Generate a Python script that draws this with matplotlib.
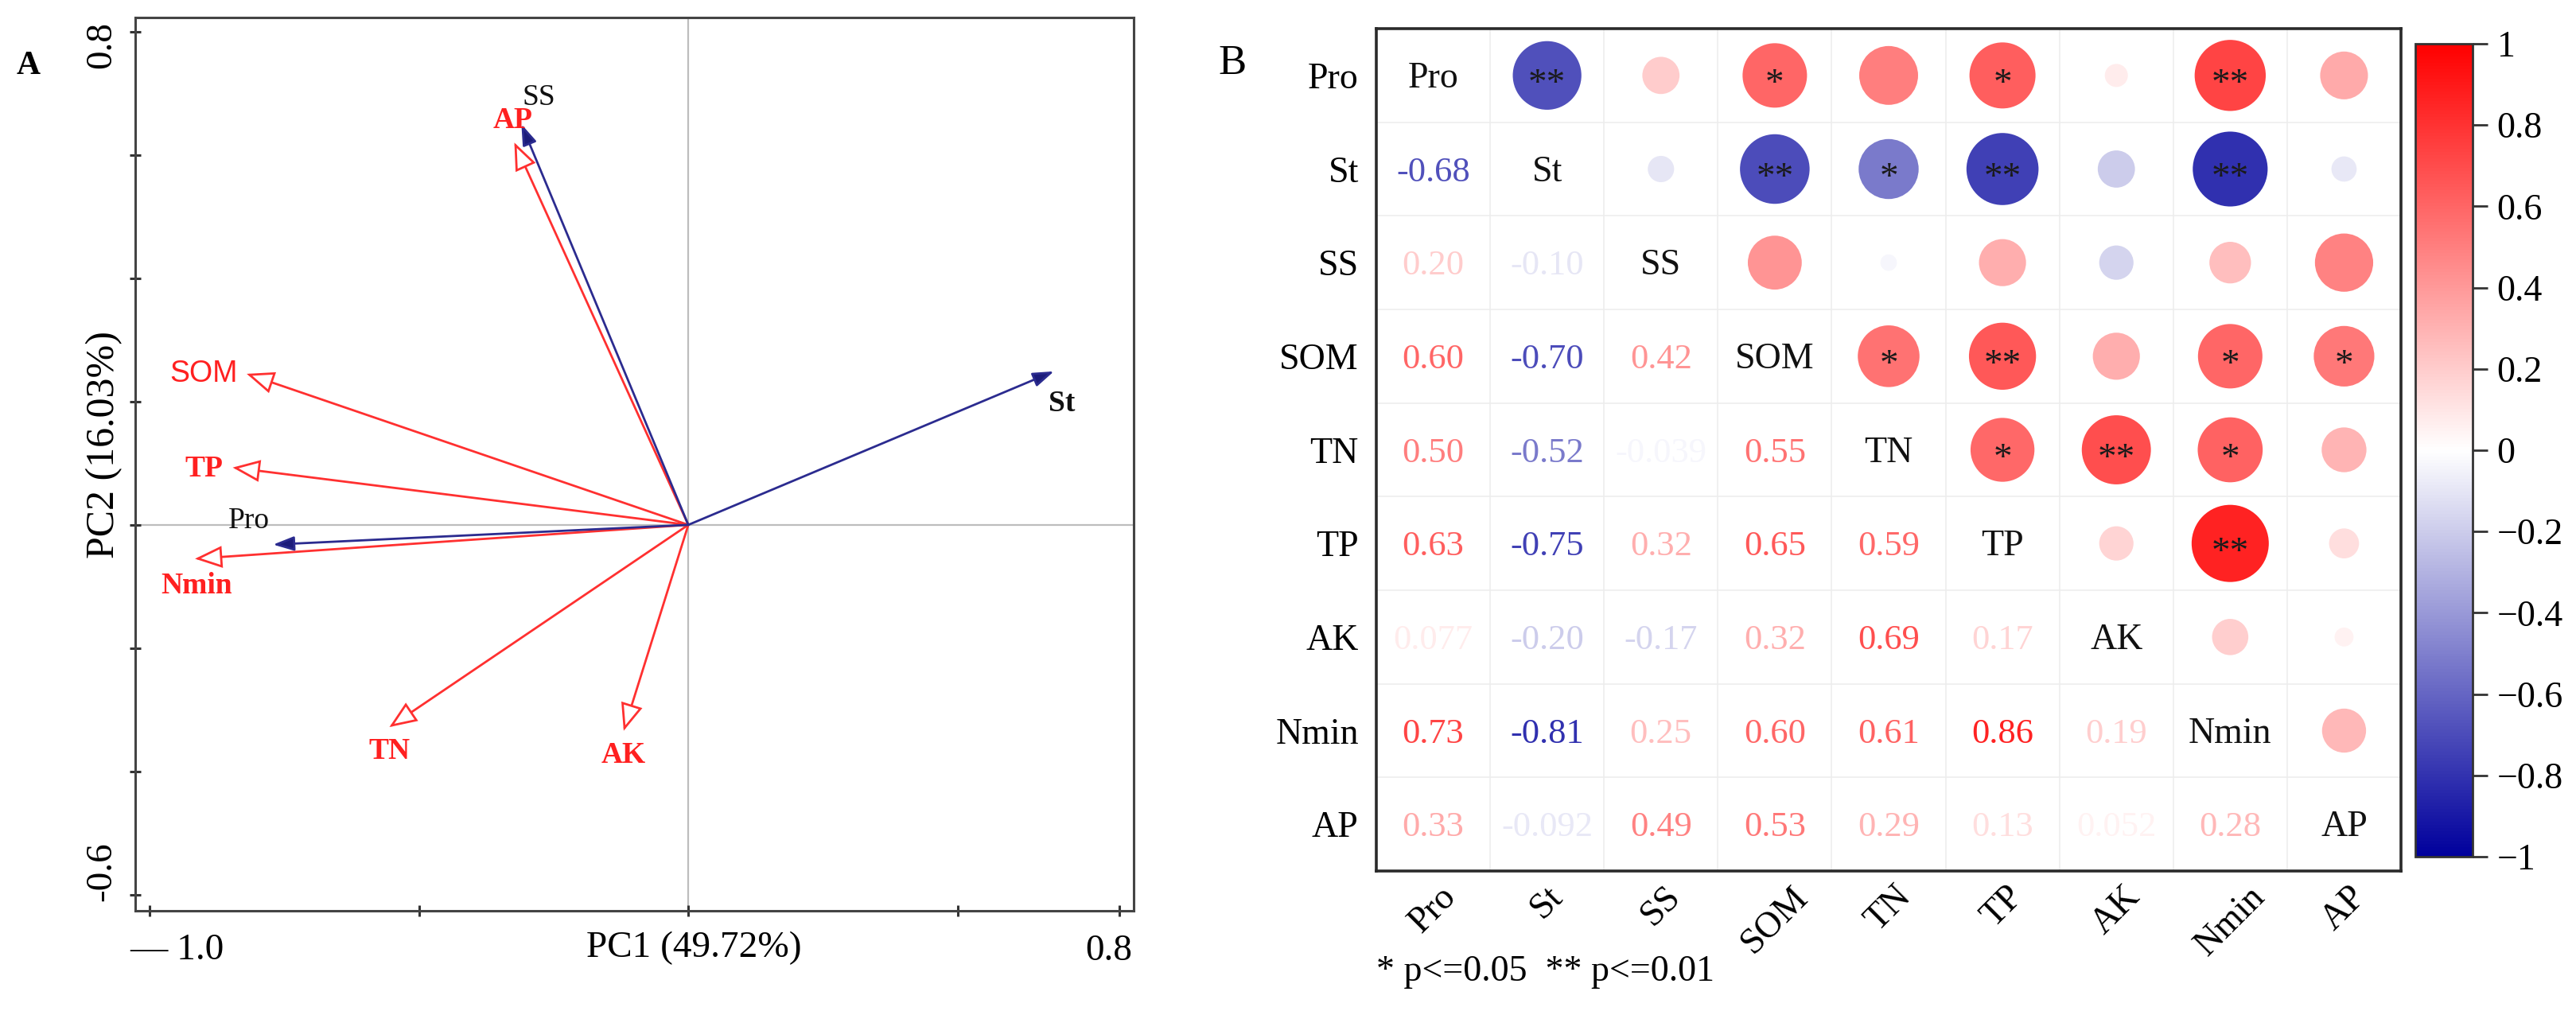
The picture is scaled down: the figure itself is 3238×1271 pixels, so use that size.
import numpy as np
import matplotlib
matplotlib.use('Agg')
import matplotlib.pyplot as plt
from matplotlib.colors import LinearSegmentedColormap, Normalize
from matplotlib.cm import ScalarMappable
from matplotlib.patches import FancyArrowPatch

# ---------------- data ----------------
# Panel A: PCA loadings
pca_vars = ['SS', 'AP', 'SOM', 'TP', 'Pro', 'Nmin', 'TN', 'AK', 'St']
pc1 = [-0.31, -0.323, -0.82, -0.846, -0.771, -0.916, -0.555, -0.12, 0.679]
pc2 = [0.65, 0.62, 0.245, 0.093, -0.032, -0.055, -0.328, -0.334, 0.249]
pca_group = ['resp', 'env', 'env', 'env', 'resp', 'env', 'env', 'env', 'resp']
pc1_label = 'PC1 (49.72%)'
pc2_label = 'PC2 (16.03%)'
xtick_vals = [-1.0, -0.5, 0.0, 0.5, 0.8]
ytick_vals = [-0.6, -0.4, -0.2, 0.0, 0.2, 0.4, 0.6, 0.8]

# Panel B: correlation matrix (lower triangle) and significance
corr_vars = ['Pro', 'St', 'SS', 'SOM', 'TN', 'TP', 'AK', 'Nmin', 'AP']
corr_lower = [
    [],
    [-0.68],
    [0.20, -0.10],
    [0.60, -0.70, 0.42],
    [0.50, -0.52, -0.039, 0.55],
    [0.63, -0.75, 0.32, 0.65, 0.59],
    [0.077, -0.20, -0.17, 0.32, 0.69, 0.17],
    [0.73, -0.81, 0.25, 0.60, 0.61, 0.86, 0.19],
    [0.33, -0.092, 0.49, 0.53, 0.29, 0.13, 0.052, 0.28],
]
sig_lower = [
    [],
    ['**'],
    ['', ''],
    ['*', '**', ''],
    ['', '*', '', '*'],
    ['*', '**', '', '**', '*'],
    ['', '', '', '', '**', ''],
    ['**', '**', '', '*', '*', '**', ''],
    ['', '', '', '*', '', '', '', ''],
]
cbar_ticks = [-1, -0.8, -0.6, -0.4, -0.2, 0, 0.2, 0.4, 0.6, 0.8, 1]
cbar_ticklabels = ['\u22121', '\u22120.8', '\u22120.6', '\u22120.4', '\u22120.2', '0',
                   '0.2', '0.4', '0.6', '0.8', '1']

# ---------------- layout / style ----------------
W, H = 3238, 1271
DPI = 100
SERIF = ['Liberation Serif', 'DejaVu Serif']
SANS = ['Liberation Sans', 'DejaVu Sans']
RED_LINE = '#FF3030'
RED_TXT = '#FF2020'
BLUE_LINE = '#2B2B8F'
BLUE_HEAD = '#1C1C7A'

plt.rcParams['font.family'] = SERIF
plt.rcParams['mathtext.fontset'] = 'stix'


def fpx(x, y):
    return x / W, 1 - y / H


fig = plt.figure(figsize=(W / DPI, H / DPI), dpi=DPI)
fig.patch.set_facecolor('white')

# ================= Panel A =================
axL, axR, axT, axB = 170, 1425, 22, 1145
ax1 = fig.add_axes([axL / W, 1 - axB / H, (axR - axL) / W, (axB - axT) / H])
ax1.set_xlim(-1.027, 0.827)
ax1.set_ylim(-0.626, 0.823)
for s in ax1.spines.values():
    s.set_color('#444444')
    s.set_linewidth(2.2)
ax1.set_xticks(xtick_vals)
ax1.set_yticks(ytick_vals)
ax1.set_xticklabels([])
ax1.set_yticklabels([])
ax1.tick_params(direction='inout', length=10, width=2.2, color='#333333',
                top=False, right=False)
ax1.axhline(0, color='#BDBDBD', lw=1.6, zorder=1)
ax1.axvline(0, color='#BDBDBD', lw=1.6, zorder=1)

label_offsets_px = {
    'SS': (22, -33), 'AP': (-2, -28), 'SOM': (-54, 0), 'TP': (-36, 2),
    'Pro': (-30, -30), 'Nmin': (2, 34), 'TN': (0, 30), 'AK': (0, 31),
    'St': (10, 41),
}
label_style = {
    'SS': dict(color='#111111', family=SERIF, weight='normal'),
    'Pro': dict(color='#111111', family=SERIF, weight='normal'),
    'St': dict(color='#111111', family=SERIF, weight='bold'),
    'SOM': dict(color=RED_TXT, family=SANS, weight='normal'),
}

for name, x, y, g in zip(pca_vars, pc1, pc2, pca_group):
    if g == 'env':
        arr = FancyArrowPatch((0, 0), (x, y),
                              arrowstyle='-|>,head_length=21,head_width=8.5',
                              mutation_scale=1, fc='white', ec=RED_LINE,
                              lw=2.0, shrinkA=0, shrinkB=0, zorder=3,
                              joinstyle='miter')
    else:
        arr = FancyArrowPatch((0, 0), (x, y),
                              arrowstyle='-|>,head_length=16,head_width=5.5',
                              mutation_scale=1, fc=BLUE_HEAD, ec=BLUE_LINE,
                              lw=2.0, shrinkA=0, shrinkB=0, zorder=4)
    ax1.add_patch(arr)
    st = label_style.get(name, dict(color=RED_TXT, family=SERIF, weight='bold'))
    ox, oy = label_offsets_px[name]
    ax1.annotate(name, xy=(x, y), xytext=(ox * 0.72, -oy * 0.72),
                 textcoords='offset points', ha='center', va='center',
                 fontsize=27, zorder=5, **st)

# axis texts for panel A
fig.text(*fpx(36, 83), 'A', fontsize=30, weight='bold', ha='center', va='center',
         family=SERIF)
fig.text(*fpx(131, 559), pc2_label, fontsize=36, rotation=90, ha='center',
         va='center', family=SERIF)
fig.text(*fpx(872, 1192), pc1_label, fontsize=34, ha='center', va='center',
         family=SERIF)
fig.text(*fpx(222, 1195), '\u2014 1.0', fontsize=34, ha='center', va='center',
         family=SERIF)
fig.text(*fpx(1394, 1196), '0.8', fontsize=34, ha='center', va='center',
         family=SERIF)
fig.text(*fpx(128, 57), '0.8', fontsize=34, rotation=90, ha='center',
         va='center', family=SERIF)
fig.text(*fpx(128, 1096), '-0.6', fontsize=34, rotation=90, ha='center',
         va='center', family=SERIF)

# ================= Panel B =================
n = len(corr_vars)
R = np.eye(n)
S = [['' for _ in range(n)] for _ in range(n)]
for i in range(n):
    for j, v in enumerate(corr_lower[i]):
        R[i, j] = v
        R[j, i] = v
        S[i][j] = sig_lower[i][j]
        S[j][i] = sig_lower[i][j]

cmap = LinearSegmentedColormap.from_list('bwr_corr', ['#00009C', '#FFFFFF', '#FF0000'])
norm = Normalize(-1, 1)

mL, mR, mT, mB = 1730, 3018, 36, 1095
ax2 = fig.add_axes([mL / W, 1 - mB / H, (mR - mL) / W, (mB - mT) / H])
ax2.set_xlim(-0.5, n - 0.5)
ax2.set_ylim(n - 0.5, -0.5)
for k in range(1, n):
    ax2.axhline(k - 0.5, color='#EDEDED', lw=1.2, zorder=0)
    ax2.axvline(k - 0.5, color='#EDEDED', lw=1.2, zorder=0)
for s in ax2.spines.values():
    s.set_color('#2a2a2a')
    s.set_linewidth(2.6)

ax2.set_xticks(range(n))
ax2.set_yticks(range(n))
ax2.set_xticklabels(corr_vars, rotation=45, ha='center', va='top', fontsize=33,
                    family=SERIF)
ax2.set_yticklabels(corr_vars, fontsize=33, family=SERIF)
ax2.tick_params(axis='both', length=0)
ax2.tick_params(axis='x', pad=8)
ax2.tick_params(axis='y', pad=16)

xs, ys, vals = [], [], []
for i in range(n):
    for j in range(n):
        if j > i:
            xs.append(j)
            ys.append(i)
            vals.append(R[i, j])
vals = np.array(vals)
D_pt = 104.6 * 72 / DPI
ax2.scatter(xs, ys, s=(D_pt ** 2) * np.abs(vals), c=vals, cmap=cmap, norm=norm,
            edgecolors='none', zorder=3)


def fmt(v):
    if abs(v) < 0.1:
        return f'{v:.3f}'
    return f'{v:.2f}'


for i in range(n):
    for j in range(n):
        if i == j:
            ax2.text(j, i + 0.13, corr_vars[i], ha='center', va='baseline',
                     fontsize=33, color='#111111', family=SERIF, zorder=4)
        elif j < i:
            ax2.text(j, i + 0.13, fmt(R[i, j]), ha='center', va='baseline',
                     fontsize=32, color=cmap(norm(R[i, j])), family=SERIF, zorder=4)
        else:
            if S[i][j]:
                ax2.text(j, i + 0.2, S[i][j], ha='center', va='baseline',
                         fontsize=34, color='#1a1a1a', family=SERIF, zorder=5)

fig.text(*fpx(1549, 80), 'B', fontsize=38, ha='center', va='center', family=SERIF)
fig.text(*fpx(1730, 1222), '* p<=0.05  ** p<=0.01', fontsize=33, ha='left',
         va='center', family=SERIF)

# colorbar
cL, cR, cT, cB = 3036, 3108, 55, 1077
cax = fig.add_axes([cL / W, 1 - cB / H, (cR - cL) / W, (cB - cT) / H])
cb = fig.colorbar(ScalarMappable(norm=norm, cmap=cmap), cax=cax)
cb.set_ticks(cbar_ticks)
cb.set_ticklabels(cbar_ticklabels)
cb.outline.set_linewidth(2.0)
cb.outline.set_edgecolor('#333333')
cax.tick_params(length=14, width=2, labelsize=33, pad=8, color='#333333')
for t in cax.get_yticklabels():
    t.set_family(SERIF)

fig.savefig('out.png', dpi=DPI, facecolor='white')
